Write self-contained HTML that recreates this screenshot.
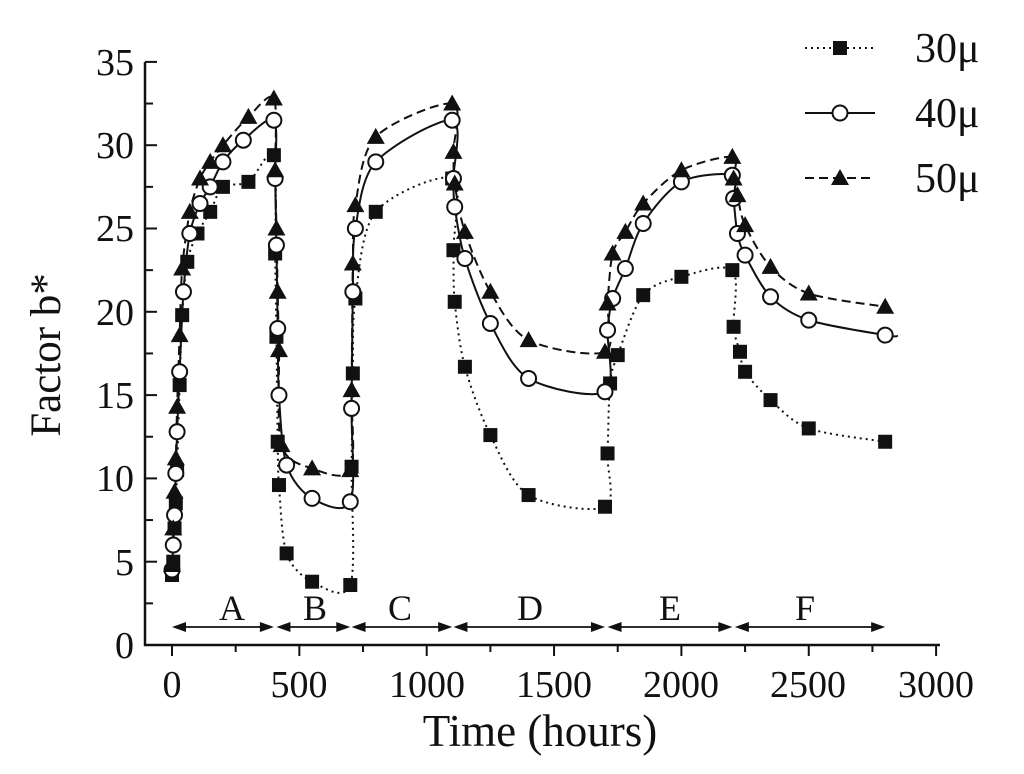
<!DOCTYPE html>
<html><head><meta charset="utf-8"><style>body{margin:0;background:#fff}svg{display:block}text{font-family:"Liberation Serif",serif;fill:#111}</style></head><body>
<svg id="s" width="1024" height="774" viewBox="0 0 1024 774">
<g stroke="#111" stroke-width="2.5" fill="none">
<line x1="145" y1="62" x2="145" y2="646"/>
<line x1="144" y1="645" x2="940" y2="645"/>
</g>
<g id="ticks" stroke="#111" stroke-width="2"></g>
<g font-size="38" text-anchor="end">
<text x="134" y="658">0</text><text x="134" y="575">5</text><text x="134" y="491">10</text><text x="134" y="408">15</text><text x="134" y="325">20</text><text x="134" y="241">25</text><text x="134" y="158">30</text><text x="134" y="75">35</text>
</g>
<g font-size="38" text-anchor="middle">
<text x="172" y="697">0</text><text x="299" y="697">500</text><text x="427" y="697">1000</text><text x="554" y="697">1500</text><text x="681" y="697">2000</text><text x="808" y="697">2500</text><text x="936" y="697">3000</text>
<text x="540" y="746" font-size="45">Time (hours)</text>
<text x="232" y="620" font-size="36">A</text><text x="315" y="620" font-size="36">B</text><text x="400" y="620" font-size="36">C</text><text x="530" y="620" font-size="36">D</text><text x="670" y="620" font-size="36">E</text><text x="805" y="620" font-size="36">F</text>
</g>
<text transform="translate(60,355) rotate(-90)" font-size="43" text-anchor="middle">Factor b*</text>
<g id="arr" stroke="#111" stroke-width="1.8" fill="#111"></g>
<g id="plot"></g>
<g font-size="42"><text x="915" y="62">30μ</text><text x="915" y="127">40μ</text><text x="915" y="192">50μ</text></g>
</svg>
<script>
const X=t=>172+t*0.2547,Y=v=>645-v*16.66,NS="http://www.w3.org/2000/svg";
function el(p,n,a){const e=document.createElementNS(NS,n);for(const k in a)e.setAttribute(k,a[k]);p.appendChild(e);return e}
const tk=document.getElementById('ticks');
for(let v=0;v<=35;v+=2.5){el(tk,'line',{x1:145,x2:v%5?153:157,y1:Y(v),y2:Y(v)})}
for(let t=0;t<=3000;t+=250){el(tk,'line',{x1:X(t),x2:X(t),y1:645,y2:t%500?652:656})}
const ar=document.getElementById('arr');
const segs=[[0,400],[410,700],[705,1100],[1105,1700],[1710,2200],[2210,2800]];
segs.forEach(([a,b])=>{const x1=X(a),x2=X(b),y=627;el(ar,'line',{x1:x1+4,x2:x2-4,y1:y,y2:y});
el(ar,'polygon',{points:`${x1},${y} ${x1+14},${y-5} ${x1+14},${y+5}`,stroke:'none'});
el(ar,'polygon',{points:`${x2},${y} ${x2-14},${y-5} ${x2-14},${y+5}`,stroke:'none'});});
const S30=[[0,4.2],[5,5],[10,7],[15,8.5],[20,10.5],[30,15.6],[40,19.8],[60,23],[100,24.7],[150,26],[200,27.5],[300,27.8],[400,29.4],[405,23.5],[410,18.5],[415,12.2],[420,9.6],[450,5.5],[550,3.8],[700,3.6],[705,10.7],[710,16.3],[720,20.8],[800,26],[1100,28],[1105,23.7],[1110,20.6],[1150,16.7],[1250,12.6],[1400,9],[1700,8.3],[1710,11.5],[1720,15.7],[1750,17.4],[1850,21],[2000,22.1],[2200,22.5],[2205,19.1],[2230,17.6],[2250,16.4],[2350,14.7],[2500,13],[2800,12.2]];
const S40=[[0,4.5],[5,6],[10,7.8],[15,10.3],[20,12.8],[30,16.4],[45,21.2],[70,24.7],[110,26.5],[150,27.5],[200,29],[280,30.3],[400,31.5],[405,28],[410,24],[415,19],[420,15],[450,10.8],[550,8.8],[700,8.6],[705,14.2],[710,21.2],[720,25],[800,29],[1100,31.5],[1105,28],[1110,26.3],[1150,23.2],[1250,19.3],[1400,16],[1700,15.2],[1710,18.9],[1730,20.8],[1780,22.6],[1850,25.3],[2000,27.8],[2200,28.2],[2205,26.8],[2220,24.7],[2250,23.4],[2350,20.9],[2500,19.5],[2800,18.6],[2850,18.55]];
const S50=[[0,4.8],[5,7],[10,9.2],[15,11.2],[20,14.3],[30,18.6],[40,22.6],[70,26],[110,28],[150,29],[200,30],[300,31.7],[400,32.8],[405,28.5],[410,25],[415,21.2],[420,17.7],[430,12],[550,10.6],[700,10.5],[705,15.3],[710,22.9],[720,26.4],[800,30.5],[1100,32.5],[1105,29.6],[1110,27.7],[1150,24.8],[1250,21.2],[1400,18.3],[1700,17.6],[1710,20.5],[1730,23.5],[1780,24.8],[1850,26.5],[2000,28.5],[2200,29.3],[2205,28],[2220,27],[2250,25.2],[2350,22.7],[2500,21.1],[2800,20.3]];
const P=document.getElementById('plot');
function line(d,dash){const pts=d.map(p=>[X(p[0]),Y(p[1])]);let s='M'+pts[0];for(let i=0;i<pts.length-1;i++){const p0=pts[Math.max(0,i-1)],p1=pts[i],p2=pts[i+1],p3=pts[Math.min(pts.length-1,i+2)];const k=0.15;s+=` C${p1[0]+(p2[0]-p0[0])*k},${p1[1]+(p2[1]-p0[1])*k} ${p2[0]-(p3[0]-p1[0])*k},${p2[1]-(p3[1]-p1[1])*k} ${p2[0]},${p2[1]}`}
el(P,'path',{d:s,fill:'none',stroke:'#111','stroke-width':2,'stroke-dasharray':dash})}
line(S30,'2 4');line(S40,'');line(S50,'9 5');
function sq(x,y){el(P,'rect',{x:x-7,y:y-7,width:14,height:14,fill:'#111'})}
function ci(x,y){el(P,'circle',{cx:x,cy:y,r:7.5,fill:'#fff',stroke:'#111','stroke-width':2})}
function tr(x,y){el(P,'polygon',{points:`${x},${y-9} ${x-9},${y+7} ${x+9},${y+7}`,fill:'#111'})}
S30.forEach(p=>sq(X(p[0]),Y(p[1])));
S40.slice(0,-1).forEach(p=>ci(X(p[0]),Y(p[1])));
S50.forEach(p=>tr(X(p[0]),Y(p[1])));
el(P,'line',{x1:805,x2:875,y1:48,y2:48,stroke:'#111','stroke-width':2,'stroke-dasharray':'2 4'});sq(840,48);
el(P,'line',{x1:805,x2:875,y1:113,y2:113,stroke:'#111','stroke-width':2});ci(840,113);
el(P,'line',{x1:805,x2:875,y1:178,y2:178,stroke:'#111','stroke-width':2,'stroke-dasharray':'9 5'});tr(840,178);
</script>
</body></html>
